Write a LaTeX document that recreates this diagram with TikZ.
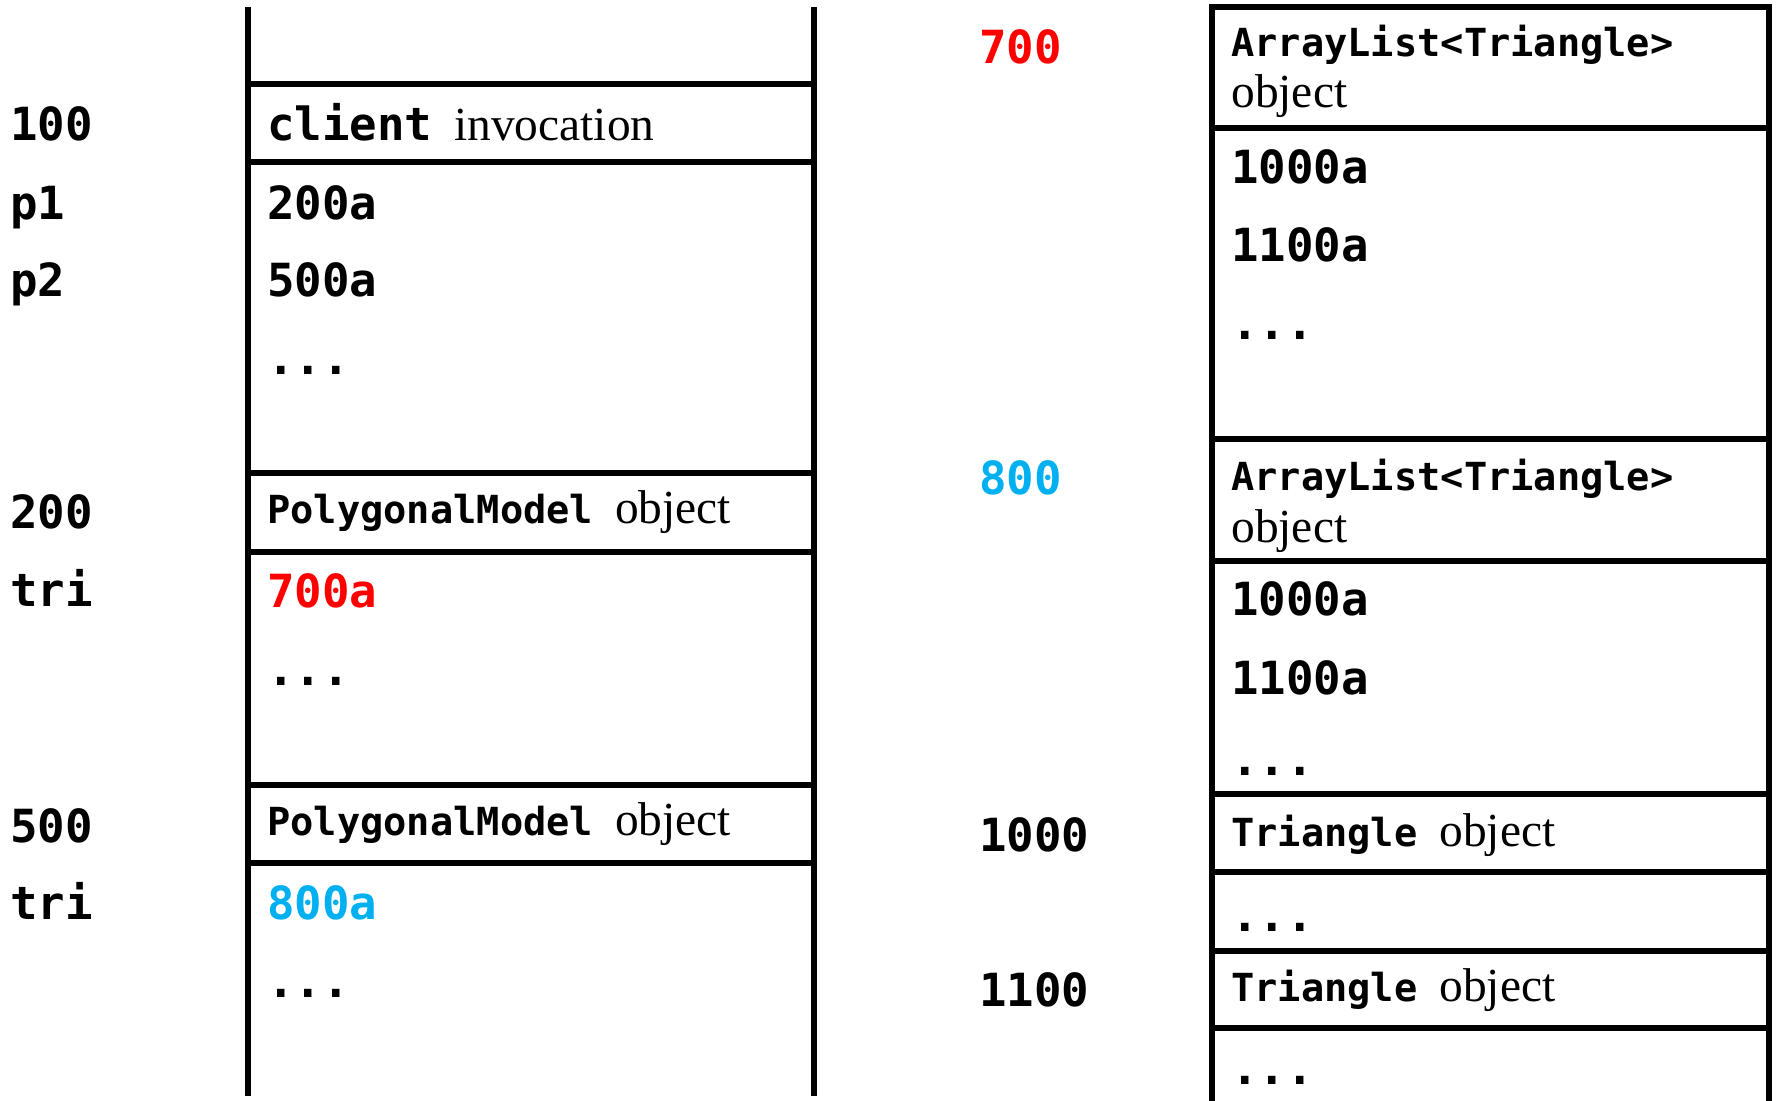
\documentclass[tikz,border=0pt]{standalone}
\usepackage{fontspec}
\setmainfont{Liberation Serif}
\newfontfamily\codefont{DejaVu Sans Mono}
\definecolor{refred}{HTML}{FF0000}
\definecolor{refblue}{HTML}{00B0F0}
\newcommand{\bigcode}[1]{{\codefont\bfseries\fontsize{26}{30}\selectfont #1}}
\newcommand{\smallcode}[1]{{\codefont\bfseries\fontsize{22}{26}\selectfont #1}}

\begin{document}
\begin{tikzpicture}[x=0.02cm, y=-0.02cm,
		addr/.style={anchor=base west, inner sep=0pt, font=\codefont\bfseries\fontsize{26}{30}\selectfont},
		word/.style={anchor=base west, inner sep=0pt, font=\fontsize{27}{31}\selectfont},
		wall/.style={line width=3.2pt}]
	\useasboundingbox (0,0) rectangle (1776,1101);

	% stack frames
	\draw[wall] (248,7) -- (248,1096);
	\draw[wall] (814,7) -- (814,1096);
	\draw[wall] (248,84) -- (814,84);
	\draw[wall] (248,162) -- (814,162);
	\draw[wall] (248,473) -- (814,473);
	\draw[wall] (248,552) -- (814,552);
	\draw[wall] (248,785) -- (814,785);
	\draw[wall] (248,863) -- (814,863);

	\node[addr] at (10,141) (a100) {100};
	\node[addr] at (10,220) (p1) {p1};
	\node[addr] at (10,297) (p2) {p2};
	\node[addr] at (10,529) (a200) {200};
	\node[addr] at (10,606) (tri1) {tri};
	\node[addr] at (10,842) (a500) {500};
	\node[addr] at (10,919) (tri2) {tri};

	\node[word] at (267,141) (client) {\bigcode{client}\hspace{12.5pt}invocation};
	\node[addr] at (267,220) (v200) {200a};
	\node[addr] at (267,297) (v500) {500a};
	\node[addr] at (267,375) (more1) {...};
	\node[word] at (267,524) (poly1) {\smallcode{PolygonalModel}\hspace{12.5pt}object};
	\node[addr, text=refred] at (267,607) (v700) {700a};
	\node[addr] at (267,685) (more2) {...};
	\node[word] at (267,835) (poly2) {\smallcode{PolygonalModel}\hspace{12.5pt}object};
	\node[addr, text=refblue] at (267,919) (v800) {800a};
	\node[addr] at (267,997) (more3) {...};

	% heap
	\draw[wall] (1212,1101) -- (1212,7) -- (1769,7) -- (1769,1101);
	\draw[wall] (1212,128) -- (1769,128);
	\draw[wall] (1212,439) -- (1769,439);
	\draw[wall] (1212,561) -- (1769,561);
	\draw[wall] (1212,794) -- (1769,794);
	\draw[wall] (1212,872) -- (1769,872);
	\draw[wall] (1212,951) -- (1769,951);
	\draw[wall] (1212,1028) -- (1769,1028);

	\node[addr, text=refred] at (979,64) (a700) {700};
	\node[addr, text=refblue] at (979,495) (a800) {800};
	\node[addr] at (979,851) (a1000) {1000};
	\node[addr] at (979,1006) (a1100) {1100};

	\node[word] at (1231,57) (list1) {\smallcode{ArrayList<Triangle>}};
	\node[word] at (1231,108) (obj1) {object};
	\node[addr] at (1231,184) (e1000a) {1000a};
	\node[addr] at (1231,262) (e1100a) {1100a};
	\node[addr] at (1231,340) (more4) {...};
	\node[word] at (1231,491) (list2) {\smallcode{ArrayList<Triangle>}};
	\node[word] at (1231,542) (obj2) {object};
	\node[addr] at (1231,616) (f1000a) {1000a};
	\node[addr] at (1231,694) (f1100a) {1100a};
	\node[addr] at (1231,775) (more5) {...};
	\node[word] at (1231,846) (tria1) {\smallcode{Triangle}\hspace{12.5pt}object};
	\node[addr] at (1231,931) (more6) {...};
	\node[word] at (1231,1001) (tria2) {\smallcode{Triangle}\hspace{12.5pt}object};
	\node[addr] at (1231,1084) (more7) {...};
\end{tikzpicture}
\end{document}
